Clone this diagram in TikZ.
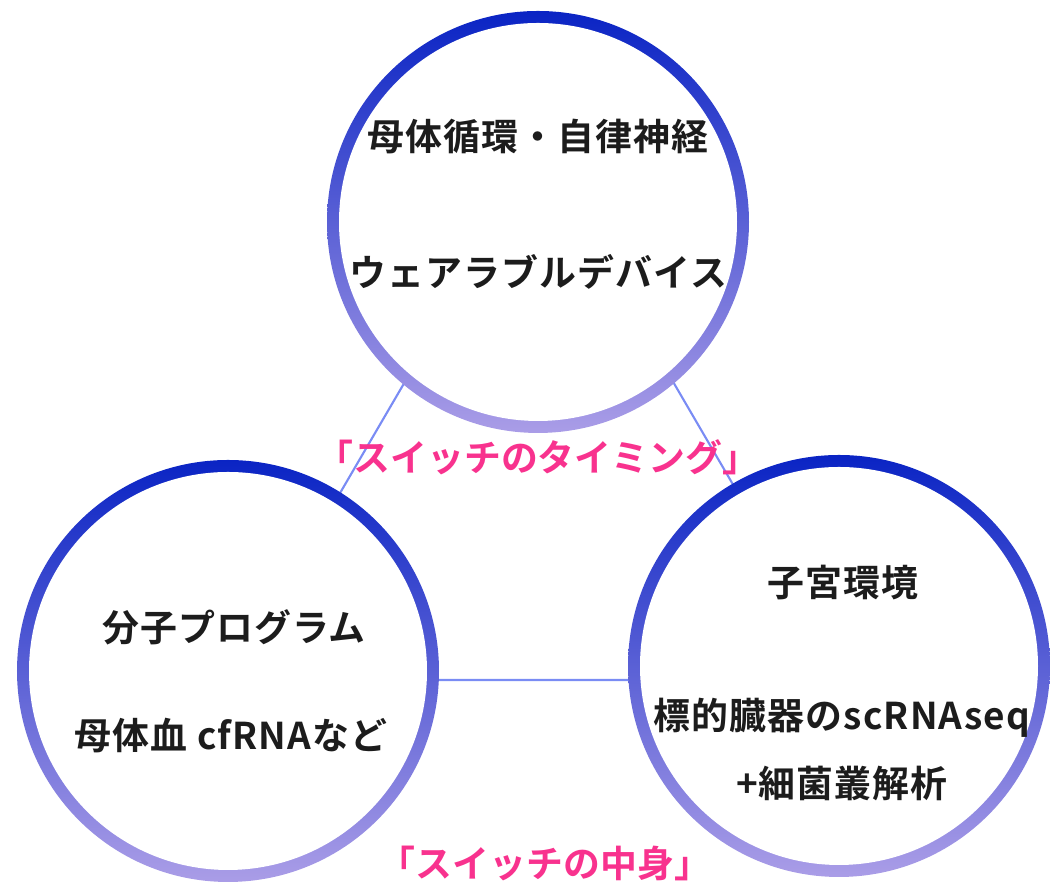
\documentclass[tikz,border=0pt]{standalone}
\usepackage{fontspec}
\setmainfont{Noto Sans CJK JP}[BoldFont=* Bold]
\usetikzlibrary{calc}
\definecolor{ringtop}{HTML}{0A24C4}
\definecolor{ringmid}{HTML}{7068D3}
\definecolor{ringbot}{HTML}{AA9DE7}
\definecolor{linkblue}{HTML}{7A8CF4}
\definecolor{switchpink}{HTML}{F8328E}
\definecolor{inktext}{HTML}{1C1C1C}
\tikzset{
    ring/.style={circle,inner sep=0pt,minimum size=8.44cm,
        top color=ringtop,middle color=ringmid,bottom color=ringbot,
        path picture={\fill[white] (path picture bounding box.center) circle (3.98cm);}},
    link/.style={draw=linkblue,line width=1.2pt},
    topic/.style={font=\fontsize{21}{25}\selectfont\bfseries\addfontfeatures{LetterSpace=3},text=inktext,inner sep=1pt},
    switch/.style={font=\fontsize{21}{25}\selectfont\bfseries,text=switchpink,inner sep=1pt}
}

\begin{document}
\begin{tikzpicture}
    \useasboundingbox (0,0) rectangle (21,17.68);
    % triangle behind the circles
    \coordinate (va) at (10.78,14.64);
    \coordinate (vl) at (4.62,4.08);
    \coordinate (vr) at (16.94,4.08);
    \draw[link] (va) -- (vl) -- (vr) -- cycle;
    \node[ring] (mother) at (10.76,13.24) {};
    \node[ring] (program) at (4.56,4.26) {};
    \node[ring] (uterus) at (16.78,4.36) {};
    \node[topic] (m1) at (10.76,14.94) {母体循環・自律神経};
    \node[topic] (m2) at (10.76,12.24) {ウェアラブルデバイス};
    \node[topic] (p1) at (4.68,5.14) {分子プログラム};
    \node[topic] (p2) at (4.62,2.96) {母体血 cfRNAなど};
    \node[topic] (u1) at (16.86,6.02) {子宮環境};
    \node[topic] (u2) at (16.84,3.32) {標的臓器のscRNAseq};
    \node[topic] (u3) at (16.84,2.00) {+細菌叢解析};
    \node[switch] (timing) at (10.76,8.54) {「スイッチのタイミング」};
    \node[switch] (content) at (10.90,0.40) {「スイッチの中身」};
\end{tikzpicture}
\end{document}
